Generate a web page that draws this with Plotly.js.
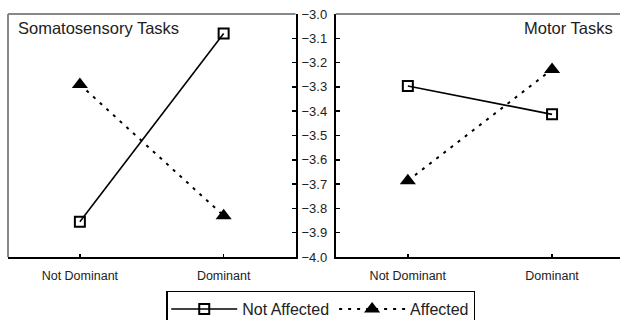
<!DOCTYPE html>
<html>
<head>
<meta charset="utf-8">
<script src="https://cdn.plot.ly/plotly-3.0.1.min.js"></script>
<style>html,body{margin:0;padding:0;background:#fff;}</style>
</head>
<body>
<div id="chart" style="width:620px;height:320px;"></div>
<script>
const categories = ['Not Dominant', 'Dominant'];
const panelTitles = ['Somatosensory Tasks', 'Motor Tasks'];
const seriesNames = ['Not Affected', 'Affected'];
const somaNotAffected = [-3.855, -3.08];
const somaAffected = [-3.29, -3.83];
const motorNotAffected = [-3.296, -3.413];
const motorAffected = [-3.686, -3.228];
const yTicks = [-3.0, -3.1, -3.2, -3.3, -3.4, -3.5, -3.6, -3.7, -3.8, -3.9, -4.0];

const FONT = '"Liberation Sans", Arial, sans-serif';
const naStyle = {
  mode: 'lines+markers',
  line: {color: '#000', width: 1.6},
  marker: {symbol: 'square-open', size: 10, color: '#000', line: {width: 2, color: '#000'}}
};
const aStyle = {
  mode: 'lines+markers',
  line: {color: '#000', width: 2, dash: '3px,6px'},
  marker: {symbol: 'triangle-up', size: 14, color: '#000'}
};

const traces = [
  Object.assign({x: categories, y: somaNotAffected, name: seriesNames[0], xaxis: 'x', yaxis: 'y', showlegend: true, legendgroup: 'na'}, naStyle),
  Object.assign({x: categories, y: somaAffected, name: seriesNames[1], xaxis: 'x', yaxis: 'y', showlegend: true, legendgroup: 'a'}, aStyle),
  Object.assign({x: categories, y: motorNotAffected, name: seriesNames[0], xaxis: 'x2', yaxis: 'y2', showlegend: false, legendgroup: 'na'}, naStyle),
  Object.assign({x: categories, y: motorAffected, name: seriesNames[1], xaxis: 'x2', yaxis: 'y2', showlegend: false, legendgroup: 'a'}, aStyle)
];

const xCommon = {
  type: 'category', showline: true, linecolor: '#000', linewidth: 2,
  ticks: 'inside', ticklen: 3, tickwidth: 1.5, tickcolor: '#000',
  showgrid: false, zeroline: false, fixedrange: true, automargin: false,
  tickfont: {family: FONT, size: 12.5, color: '#222'}, ticklabelstandoff: 6
};
const yCommon = {
  range: [-4, -3], tickvals: yTicks, tickformat: '.1f',
  showline: true, linecolor: '#000', linewidth: 2,
  ticks: 'inside', ticklen: 4, tickwidth: 1.5, tickcolor: '#000',
  showgrid: false, zeroline: false, fixedrange: true, automargin: false,
  tickfont: {family: FONT, size: 13, color: '#222'}
};

const layout = {
  width: 620, height: 320,
  margin: {l: 8, r: 0, t: 14, b: 63, autoexpand: false},
  paper_bgcolor: '#fff', plot_bgcolor: '#fff',
  font: {family: FONT, color: '#222'},
  xaxis: Object.assign({}, xCommon, {domain: [0, 0.4698], anchor: 'y', range: [-0.5, 1.5]}),
  yaxis: Object.assign({}, yCommon, {domain: [0, 1], anchor: 'x', side: 'right', showticklabels: false}),
  xaxis2: Object.assign({}, xCommon, {domain: [0.5355, 1], anchor: 'y2', range: [-0.5, 1.471]}),
  yaxis2: Object.assign({}, yCommon, {domain: [0, 1], anchor: 'x2', side: 'left', showticklabels: true, ticklabelstandoff: 4}),
  showlegend: true,
  legend: {
    orientation: 'h', x: 0.511, xanchor: 'center', yref: 'container', y: 0.092, yanchor: 'top',
    bordercolor: '#000', borderwidth: 1.5, bgcolor: '#fff',
    font: {family: FONT, size: 16, color: '#222'},
    itemwidth: 66, tracegroupgap: 12
  },
  shapes: [
    {type: 'line', xref: 'x domain', yref: 'y domain', x0: 0, x1: 1, y0: 1, y1: 1, line: {color: '#888', width: 2}},
    {type: 'line', xref: 'x domain', yref: 'y domain', x0: 0, x1: 0, y0: 0, y1: 1, line: {color: '#888', width: 2}},
    {type: 'line', xref: 'x2 domain', yref: 'y2 domain', x0: 0, x1: 1, y0: 1, y1: 1, line: {color: '#888', width: 2}}
  ],
  annotations: [
    {text: panelTitles[0], xref: 'x domain', yref: 'y domain', x: 0.028, y: 0.943, xanchor: 'left', yanchor: 'middle', showarrow: false, font: {family: FONT, size: 16.5, color: '#222'}},
    {text: panelTitles[1], xref: 'x2 domain', yref: 'y2 domain', x: 0.982, y: 0.943, xanchor: 'right', yanchor: 'middle', showarrow: false, font: {family: FONT, size: 16.5, color: '#222'}}
  ]
};

Plotly.newPlot('chart', traces, layout, {staticPlot: true, displayModeBar: false});
</script>
</body>
</html>
